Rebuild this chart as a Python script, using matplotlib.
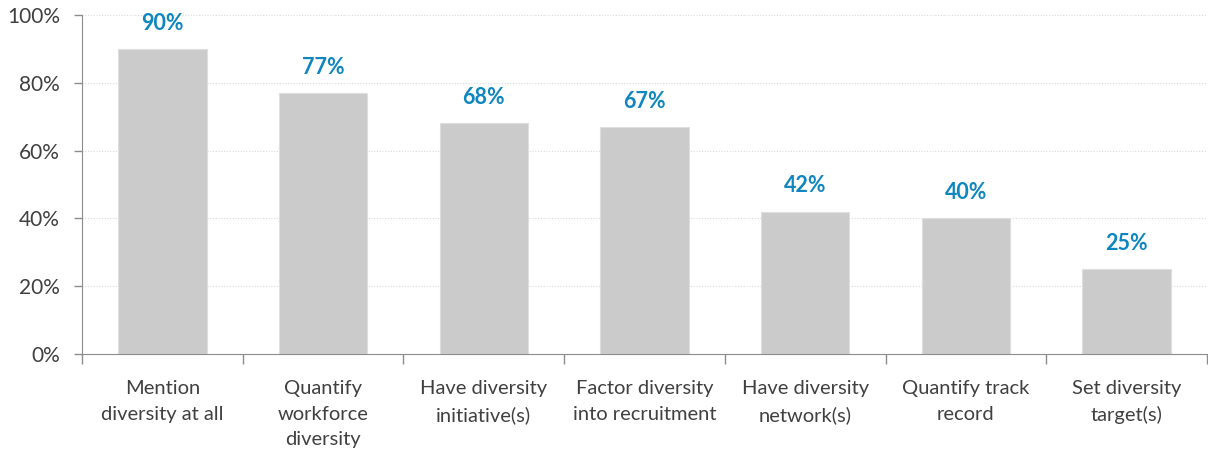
import matplotlib.pyplot as plt
import numpy as np

categories = ["Mention\ndiversity at all", "Quantify\nworkforce\ndiversity",
              "Have diversity\ninitiative(s)", "Factor diversity\ninto recruitment",
              "Have diversity\nnetwork(s)", "Quantify track\nrecord", "Set diversity\ntarget(s)"]
values = [90, 77, 68, 67, 42, 40, 25]
yticks = [0, 20, 40, 60, 80, 100]

plt.rcParams['font.family'] = ['Lato', 'DejaVu Sans']

fig = plt.figure(figsize=(12.08, 4.57), dpi=100)
ax = fig.add_axes([82/1208, 1 - 354/457, 1125/1208, 339/457])

x = np.arange(len(categories))
ax.bar(x, values, width=0.55, color='#cbcbcb', edgecolor='#dedede', linewidth=0.8, zorder=2)

for xi, v in zip(x, values):
    ax.text(xi, v + 4.5, f"{v}%", ha='center', va='bottom', color='#0f86bf',
            fontsize=15.5, fontweight='bold')

ax.set_xlim(-0.5, len(categories) - 0.5)
ax.set_ylim(0, 100)
ax.set_yticks(yticks)
ax.set_yticklabels([f"{t}%" for t in yticks], fontsize=15, color='#404040')
for t in yticks[1:]:
    ax.axhline(t, color='#d9d9d9', linestyle=(0, (1, 1.5)), linewidth=0.8, zorder=1)

# category labels, tick marks at boundaries
ax.set_xticks(x)
ax.set_xticklabels(categories, fontsize=14.5, color='#404040', linespacing=1.6)
ax.tick_params(axis='x', length=0, pad=19)
ax.set_xticks(np.arange(len(categories) + 1) - 0.5, minor=True)
ax.tick_params(axis='x', which='minor', length=7, color='#8c8c8c', width=1)
ax.tick_params(axis='y', length=6, color='#8c8c8c', width=1, pad=10)

for s in ['top', 'right']:
    ax.spines[s].set_visible(False)
ax.spines['left'].set_color('#8c8c8c')
ax.spines['bottom'].set_color('#8c8c8c')

fig.savefig('out.png', dpi=100)
